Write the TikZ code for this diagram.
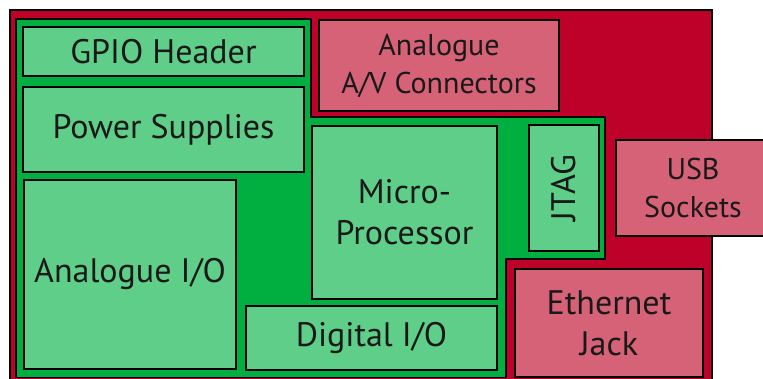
\documentclass[tikz,border=0pt]{standalone}
\usepackage{fontspec}
\setmainfont{PT Sans}
\definecolor{boardred}{HTML}{BE0128}
\definecolor{pinkbox}{HTML}{D66277}
\definecolor{boardgreen}{HTML}{00AF3F}
\definecolor{lightgreen}{HTML}{5FCE88}
\begin{document}
\begin{tikzpicture}[x=1pt,y=-1pt,
  bigtext/.style={font=\fontsize{34}{41}\selectfont},
  smalltext/.style={font=\fontsize{30}{38}\selectfont},
  blk/.style={draw=black,line width=1.1pt,inner sep=0pt,align=center,
    bigtext,text=black!90},
  gbox/.style={blk,fill=lightgreen},
  rbox/.style={blk,fill=pinkbox},
  area/.style={draw=black,line width=1.1pt}]
\useasboundingbox (0,0) rectangle (763,379);
\clip (0,0) rectangle (763,379);
\fill[white] (0,0) rectangle (763,379);
% board
\draw[area,fill=boardred] (10,10) rectangle (712,420);
\draw[area,fill=boardgreen] (16,19) -- (311,19) -- (311,117) -- (605,117) -- (605,259)
  -- (506,259) -- (506,377.5) -- (16,377.5) -- cycle;
% green blocks
\node[gbox,minimum width=281pt,minimum height=49pt] (gpio) at (163.5,51.5) {GPIO Header};
\node[gbox,minimum width=281pt,minimum height=85pt] (power) at (163.5,129.5) {Power Supplies};
\node[gbox,minimum width=212pt,minimum height=189pt] (aio) at (130,274.5) {Analogue I/O};
\node[gbox,minimum width=185pt,minimum height=173pt] (mcu) at (404.5,212.5) {Micro-\\Processor};
\node[gbox,minimum width=70pt,minimum height=126pt] (jtag) at (564,188) {};
\node[bigtext,text=black!90,rotate=90,inner sep=0pt] (jtagt) at (jtag.center) {JTAG};
\node[gbox,minimum width=251pt,minimum height=64pt] (dio) at (371.5,338) {Digital I/O};
% red blocks
\node[rbox,smalltext,minimum width=240pt,minimum height=91pt] (av) at (439,65.5) {Analogue\\A/V Connectors};
\node[rbox,smalltext,minimum width=154pt,minimum height=96pt] (usb) at (693,188) {USB\\Sockets};
\node[rbox,minimum width=188pt,minimum height=108pt] (eth) at (609,323) {Ethernet\\Jack};
\end{tikzpicture}
\end{document}
